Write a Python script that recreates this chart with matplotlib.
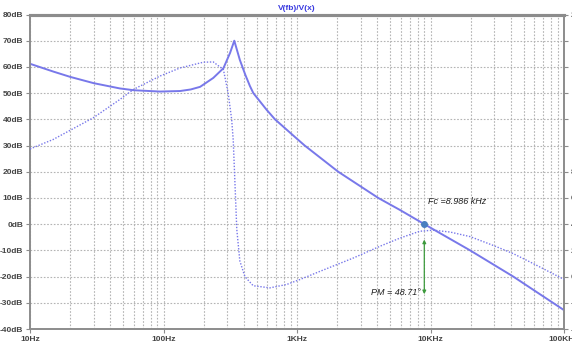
import matplotlib
matplotlib.use("Agg")
import matplotlib.pyplot as plt
import numpy as np

# loop gain magnitude (dB)
mag_freq = [10, 15, 20, 30, 47, 60, 94, 133, 160, 188, 236, 281, 315, 339,
            373, 410, 444, 471, 593, 684, 993, 1142, 2037, 4063, 5914, 8986,
            19800, 41700, 100000]
mag_db = [61.2, 58.2, 56.2, 53.8, 51.8, 51.1, 50.6, 50.8, 51.4, 52.4, 55.8, 59.5, 65.3, 70.0,
          62.7, 57.0, 52.7, 50.0, 43.6, 40.0, 32.7, 30.0, 20.0, 10.0, 5.4, 0.0,
          -10.0, -20.0, -32.8]

# phase (degrees, right axis)
ph_freq = [10, 14.9, 29.8, 47.2, 59.5, 94, 133, 199, 236, 281, 305, 324, 333,
           354, 373, 407, 470, 627, 838, 1054, 1486, 2645, 4197, 5914, 8300,
           10500, 14000, 19800, 30000, 41700, 60000, 100000]
ph_deg = [97.4, 104.6, 121.2, 135.2, 142.8, 153.0, 159.2, 163.6, 163.8, 158.0, 140.0, 120.0, 104.0,
          36.0, 12.0, 0.0, -7.0, -8.6, -6.0, -2.2, 4.0, 14.2, 23.2, 29.4, 34.6,
          35.4, 34.0, 30.5, 23.5, 17.5, 9.5, -2.2]

xticks = [10, 100, 1000, 10000, 100000]
xlabels = ["10Hz", "100Hz", "1KHz", "10KHz", "100KHz"]
yticks = list(range(-40, 90, 10))
ylabels = [f"{v}dB" for v in yticks]
rticks = list(range(-40, 220, 20))
rlabels = [f"{v}°" for v in rticks]

fc = 8986
pm_label = "PM = 48.71°"
fc_label = "Fc =8.986 kHz"

plt.rcParams['font.family'] = ['Liberation Sans Narrow', 'Liberation Sans', 'DejaVu Sans']

line_col = '#7878ea'
spine_col = '#8c8c8c'

fig = plt.figure(figsize=(5.72, 3.45), dpi=100)
ax = fig.add_axes([30 / 572, 16 / 345, 534 / 572, 314.5 / 345])
ax.set_xscale('log')
ax.set_xlim(10, 100000)
ax.set_ylim(-40, 80)

ax.plot(mag_freq, mag_db, color=line_col, lw=1.4, zorder=3)

ax2 = ax.twinx()
ax2.set_ylim(-40, 200)
ax2.plot(ph_freq, ph_deg, color=line_col, lw=1.0, ls=(0, (1, 1.2)), zorder=3)
ax2.set_yticks(rticks)
ax2.set_yticklabels(rlabels, fontsize=6, fontweight='bold', color='#444444')
ax2.tick_params(axis='y', direction='out', length=3, width=0.8, color=spine_col, pad=2)

ax.set_xticks(xticks)
ax.set_xticklabels(xlabels, fontsize=6, fontweight='bold', color='#444444')
ax.set_yticks(yticks)
ax.set_yticklabels(ylabels, fontsize=6, fontweight='bold', color='#444444')
ax.xaxis.set_minor_formatter(matplotlib.ticker.NullFormatter())
ax.tick_params(axis='both', which='both', direction='out', length=3, width=0.8,
               color=spine_col, pad=2)
ax.tick_params(axis='x', which='minor', length=0)

ax.grid(True, which='both', axis='x', color='#b4b4b4', ls=(0, (1.5, 1.5)), lw=0.8)
ax.grid(True, which='major', axis='y', color='#b4b4b4', ls=(0, (1.5, 1.5)), lw=0.8)

for a in (ax, ax2):
    for s in a.spines.values():
        s.set_color(spine_col)
        s.set_linewidth(1.2)
    a.spines['top'].set_linewidth(2.2)

# crossover marker and annotations
ax.plot([fc], [0], marker='o', ms=4, color='#4a7fc0', zorder=5)
ax.text(9600, 8.7, fc_label, fontsize=6.5, fontstyle='italic', color='#222222',
        va='center', ha='left')
ax.annotate('', xy=(fc, -4.8), xytext=(fc, -27.8),
            arrowprops=dict(arrowstyle='<|-|>', color='#3c9a3c', lw=0.9,
                            mutation_scale=5))
ax.text(8400, -26.2, pm_label, fontsize=6.5, fontstyle='italic', color='#222222',
        va='center', ha='right')

fig.text(297 / 572, 1 - 8 / 345, "V(fb)/V(x)", fontsize=6, fontweight='bold',
         color='#3a3ae0', ha='center', va='center')

fig.savefig('out.png', dpi=100)
